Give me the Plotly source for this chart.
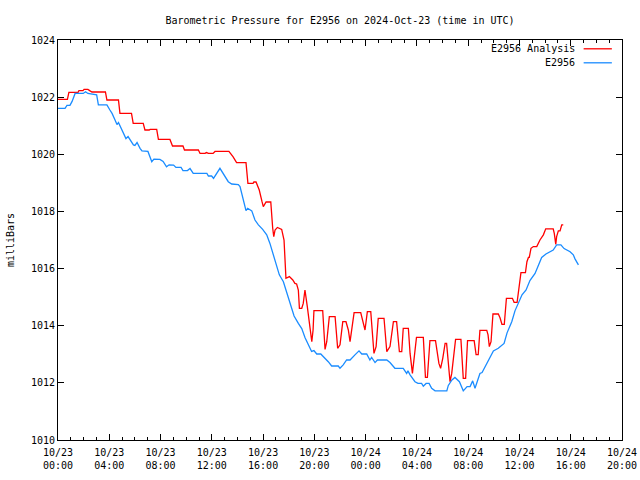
import pandas as pd
import plotly.graph_objects as go

START = "2024-10-23 00:00"

# Minutes after 2024-10-23 00:00 UTC, pressure in millibars
analysis_min = [0, 44, 51, 94, 98, 117, 122, 140, 150, 159, 222, 229, 283, 290, 344, 352, 399, 407, 427, 431,
                462, 470, 524, 536, 585, 592, 657, 665, 688, 695, 704, 726, 735, 800, 819, 836, 880, 889, 913, 917,
                927, 942, 955, 961, 974, 996, 1005, 1010, 1016, 1027, 1047, 1058, 1067, 1083, 1099, 1109, 1117, 1125,
                1130, 1141, 1148, 1156, 1167, 1180, 1188, 1194, 1198, 1239, 1250, 1258, 1270, 1297, 1309, 1320, 1333,
                1348, 1359, 1367, 1386, 1417, 1429, 1437, 1448, 1464, 1479, 1489, 1499, 1526, 1539, 1554, 1570, 1585,
                1598, 1609, 1616, 1640, 1648, 1659, 1678, 1710, 1720, 1729, 1741, 1767, 1783, 1791, 1801, 1812, 1819,
                1835, 1843, 1861, 1886, 1897, 1908, 1917, 1948, 1957, 1967, 1975, 2007, 2013, 2019, 2027, 2036, 2061,
                2069, 2078, 2089, 2099, 2127, 2135, 2149, 2158, 2167, 2188, 2195, 2202, 2206, 2214, 2225, 2241, 2256,
                2272, 2283, 2318, 2323, 2330, 2334, 2342, 2350, 2358, 2365]
analysis_mb = [1021.92, 1021.92, 1022.17, 1022.17, 1022.23, 1022.23, 1022.27, 1022.27, 1022.22, 1022.18, 1022.18,
               1021.90, 1021.90, 1021.43, 1021.43, 1021.08, 1021.08, 1020.85, 1020.85, 1020.87, 1020.87, 1020.52,
               1020.52, 1020.29, 1020.29, 1020.15, 1020.15, 1020.03, 1020.03, 1020.06, 1020.03, 1020.03, 1020.10,
               1020.10, 1019.92, 1019.71, 1019.71, 1018.98, 1018.98, 1019.03, 1019.03, 1018.75, 1018.34, 1018.17,
               1018.33, 1018.33, 1017.41, 1017.12, 1017.35, 1017.44, 1017.37, 1017.00, 1015.66, 1015.72, 1015.60,
               1015.48, 1015.46, 1015.25, 1014.61, 1014.61, 1014.78, 1015.25, 1014.67, 1013.97, 1013.44, 1013.85,
               1014.53, 1014.53, 1013.17, 1013.44, 1014.32, 1014.32, 1013.21, 1013.33, 1014.14, 1014.14, 1013.85,
               1013.44, 1014.46, 1014.46, 1014.08, 1013.85, 1014.49, 1014.49, 1013.03, 1013.27, 1014.26, 1014.26,
               1013.09, 1013.27, 1014.14, 1014.14, 1013.09, 1013.09, 1013.91, 1013.91, 1013.03, 1012.33, 1013.59,
               1013.59, 1012.19, 1012.19, 1013.48, 1013.48, 1012.68, 1012.51, 1012.86, 1013.38, 1013.38, 1012.04,
               1012.33, 1013.52, 1013.52, 1012.16, 1012.16, 1013.48, 1013.48, 1012.99, 1012.99, 1013.84, 1013.84,
               1013.68, 1013.27, 1013.44, 1014.41, 1014.41, 1014.28, 1014.05, 1014.05, 1014.96, 1014.96, 1014.82,
               1014.82, 1015.32, 1015.86, 1015.86, 1016.24, 1016.39, 1016.39, 1016.71, 1016.77, 1016.77, 1017.00,
               1017.18, 1017.39, 1017.39, 1017.23, 1016.85, 1017.12, 1017.32, 1017.32, 1017.53, 1017.53]

station_min = [0, 33, 42, 56, 66, 80, 118, 129, 140, 159, 181, 189, 229, 243, 253, 267, 276, 283, 298, 309, 318,
               328, 344, 353, 360, 370, 384, 393, 421, 431, 439, 449, 477, 492, 508, 520, 541, 552, 576, 585, 606,
               618, 633, 697, 704, 719, 728, 758, 777, 797, 813, 844, 852, 867, 880, 888, 907, 922, 938, 958, 977,
               992, 1008, 1024, 1036, 1055, 1071, 1089, 1105, 1125, 1141, 1156, 1170, 1187, 1198, 1211, 1230, 1242,
               1265, 1281, 1312, 1320, 1335, 1351, 1367, 1390, 1409, 1422, 1445, 1460, 1468, 1484, 1495, 1539, 1554,
               1577, 1616, 1632, 1638, 1648, 1671, 1685, 1702, 1710, 1723, 1737, 1749, 1765, 1820, 1827, 1844, 1858,
               1879, 1897, 1915, 1929, 1941, 1952, 1963, 1975, 1985, 2007, 2022, 2038, 2061, 2074, 2088, 2102, 2124,
               2139, 2158, 2172, 2191, 2209, 2233, 2248, 2264, 2284, 2303, 2318, 2334, 2354, 2369, 2397, 2412, 2420,
               2436]
station_mb = [1021.61, 1021.61, 1021.71, 1021.71, 1021.85, 1022.13, 1022.13, 1022.19, 1022.13, 1022.11, 1022.08,
              1021.73, 1021.73, 1021.55, 1021.43, 1021.20, 1021.04, 1021.11, 1020.85, 1020.71, 1020.55, 1020.62,
              1020.40, 1020.33, 1020.31, 1020.41, 1020.21, 1020.12, 1020.10, 1019.90, 1019.74, 1019.83, 1019.82,
              1019.75, 1019.56, 1019.63, 1019.62, 1019.54, 1019.54, 1019.43, 1019.43, 1019.50, 1019.33, 1019.33,
              1019.24, 1019.24, 1019.16, 1019.51, 1019.26, 1019.04, 1018.96, 1018.94, 1018.87, 1018.46, 1018.03,
              1018.11, 1018.02, 1017.70, 1017.53, 1017.37, 1017.18, 1016.88, 1016.48, 1016.13, 1015.78, 1015.54,
              1015.13, 1014.67, 1014.34, 1014.08, 1013.90, 1013.59, 1013.36, 1013.10, 1013.13, 1013.01, 1013.01,
              1012.92, 1012.74, 1012.59, 1012.59, 1012.51, 1012.63, 1012.80, 1012.80, 1012.98, 1013.12, 1013.01,
              1013.01, 1012.80, 1012.89, 1012.71, 1012.80, 1012.80, 1012.71, 1012.51, 1012.51, 1012.33, 1012.42,
              1012.28, 1012.04, 1011.98, 1011.98, 1011.88, 1011.98, 1011.98, 1011.81, 1011.72, 1011.72, 1011.91,
              1012.10, 1012.19, 1012.04, 1011.72, 1011.87, 1011.87, 1012.07, 1011.81, 1012.10, 1012.33, 1012.36,
              1012.68, 1012.89, 1013.12, 1013.21, 1013.29, 1013.38, 1013.75, 1014.14, 1014.52, 1014.87, 1015.08,
              1015.25, 1015.58, 1015.83, 1016.13, 1016.39, 1016.51, 1016.60, 1016.65, 1016.83, 1016.83, 1016.70,
              1016.59, 1016.48, 1016.34, 1016.13]

tick_hours = [0, 4, 8, 12, 16, 20, 24, 28, 32, 36, 40, 44]
tick_labels = ["10/23<br>00:00", "10/23<br>04:00", "10/23<br>08:00", "10/23<br>12:00", "10/23<br>16:00",
               "10/23<br>20:00", "10/24<br>00:00", "10/24<br>04:00", "10/24<br>08:00", "10/24<br>12:00",
               "10/24<br>16:00", "10/24<br>20:00"]
y_ticks = [1010, 1012, 1014, 1016, 1018, 1020, 1022, 1024]

t0 = pd.Timestamp(START)
xa = t0 + pd.to_timedelta(analysis_min, unit="m")
xs = t0 + pd.to_timedelta(station_min, unit="m")
tickvals = [t0 + pd.Timedelta(hours=h) for h in tick_hours]

FONT = "DejaVu Sans Mono"
RED = "#ff0000"
BLUE = "#1a8cff"

fig = go.Figure()
fig.add_trace(go.Scatter(x=xa, y=analysis_mb, mode="lines", name="E2956 Analysis",
                         line=dict(color=RED, width=1.3)))
fig.add_trace(go.Scatter(x=xs, y=station_mb, mode="lines", name="E2956",
                         line=dict(color=BLUE, width=1.3)))

fig.update_layout(
    width=640, height=480,
    margin=dict(l=58, r=18, t=40, b=40, autoexpand=False),
    paper_bgcolor="white", plot_bgcolor="white",
    showlegend=False,
    font=dict(family=FONT, size=10, color="black"),
    title=dict(text="Barometric Pressure for E2956 on 2024-Oct-23 (time in UTC)",
               x=0.5, xref="paper", y=1 - 20 / 480, yref="container", yanchor="middle",
               xanchor="center", font=dict(family=FONT, size=10, color="black")),
)
fig.update_xaxes(
    type="date", range=[tickvals[0], tickvals[-1]], automargin=False,
    tickmode="array", tickvals=tickvals, ticktext=tick_labels,
    ticks="inside", ticklen=6, tickcolor="black", tickwidth=1, ticklabelstandoff=3,
    minor=dict(dtick=3600000, ticks="inside", ticklen=3, tickcolor="black", showgrid=False),
    showline=True, linecolor="black", linewidth=1, mirror="allticks",
    showgrid=False, zeroline=False,
    tickfont=dict(family=FONT, size=10, color="black"),
)
fig.update_yaxes(
    range=[1010, 1024], tickmode="array", tickvals=y_ticks, automargin=False,
    ticks="inside", ticklen=6, tickcolor="black", tickwidth=1,
    showline=True, linecolor="black", linewidth=1, mirror="allticks",
    showgrid=False, zeroline=False,
    tickfont=dict(family=FONT, size=10, color="black"),
)

# axis title
fig.add_annotation(text="milliBars", xref="paper", yref="paper", x=-0.085, y=0.5,
                   textangle=-90, showarrow=False, font=dict(family=FONT, size=10, color="black"),
                   xanchor="center", yanchor="middle")

# legend (text left of sample line, gnuplot style)
legend_items = [("E2956 Analysis", RED, 0.978), ("E2956", BLUE, 0.943)]
for label, color, ly in legend_items:
    fig.add_annotation(text=label, xref="paper", yref="paper", x=0.92, y=ly,
                       xanchor="right", yanchor="middle", showarrow=False,
                       font=dict(family=FONT, size=10, color="black"))
    fig.add_shape(type="line", xref="paper", yref="paper", x0=0.932, x1=0.982, y0=ly, y1=ly,
                  line=dict(color=color, width=1.3))

fig.write_html("out.html", config={"displayModeBar": False},
               post_script="document.body.style.margin='0';document.body.style.overflow='hidden';")
